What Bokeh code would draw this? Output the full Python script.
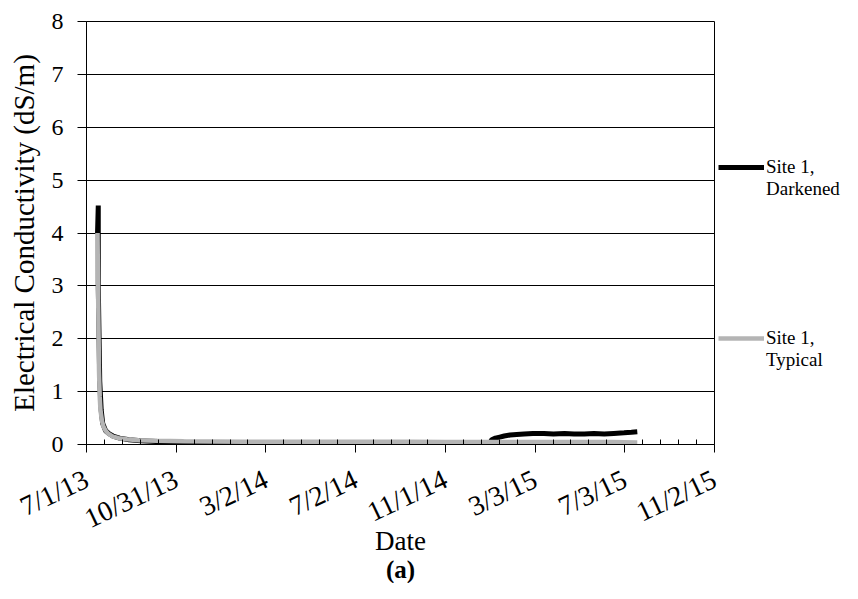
import pandas as pd
from bokeh.plotting import figure
from bokeh.models import FixedTicker, Legend, LegendItem, Title, ColumnDataSource
from bokeh.embed import file_html
from bokeh.resources import INLINE

# ---------------- data ----------------
start_date = "2013-07-01"
tick_dates = ["2013-07-01", "2013-10-31", "2014-03-02", "2014-07-02",
              "2014-11-01", "2015-03-03", "2015-07-03", "2015-11-02"]
tick_labels = ["7/1/13", "10/31/13", "3/2/14", "7/2/14",
               "11/1/14", "3/3/15", "7/3/15", "11/2/15"]
y_ticks = [0, 1, 2, 3, 4, 5, 6, 7, 8]

dark_dates = ["2013-07-16", "2013-07-17", "2013-07-17", "2013-07-19", "2013-07-21",
              "2013-07-23", "2013-07-27", "2013-08-01", "2013-08-06", "2013-08-15",
              "2013-08-28", "2013-09-13", "2013-10-10", "2013-11-15", "2014-01-01",
              "2014-03-01", "2014-05-01", "2014-07-01", "2014-09-01", "2014-11-01",
              "2014-12-15", "2015-01-01", "2015-01-03", "2015-01-08", "2015-01-14",
              "2015-01-20", "2015-01-28", "2015-02-06", "2015-02-16", "2015-02-28",
              "2015-03-15", "2015-03-28", "2015-04-12", "2015-04-25", "2015-05-09",
              "2015-05-22", "2015-06-05", "2015-06-18", "2015-07-02", "2015-07-12",
              "2015-07-20"]
dark_ec = [4.0, 4.52, 3.0, 1.2, 0.65,
           0.4, 0.26, 0.2, 0.16, 0.12,
           0.09, 0.07, 0.05, 0.04, 0.03,
           0.03, 0.03, 0.03, 0.03, 0.03,
           0.03, 0.04, 0.09, 0.12, 0.14,
           0.16, 0.18, 0.19, 0.2, 0.21,
           0.21, 0.2, 0.21, 0.2, 0.2,
           0.21, 0.2, 0.21, 0.22, 0.23,
           0.24]

typ_dates = ["2013-07-16", "2013-07-17", "2013-07-18", "2013-07-19", "2013-07-20",
             "2013-07-22", "2013-07-24", "2013-07-27", "2013-07-31", "2013-08-06",
             "2013-08-14", "2013-08-25", "2013-09-10", "2013-10-05", "2013-11-10",
             "2013-12-20", "2014-02-01", "2014-03-15", "2014-05-01", "2014-06-15",
             "2014-08-01", "2014-09-15", "2014-11-01", "2014-12-15", "2015-02-01",
             "2015-03-15", "2015-05-01", "2015-06-15", "2015-07-20"]
typ_ec = [4.0, 2.6, 1.4, 0.9, 0.65,
          0.45, 0.34, 0.26, 0.2, 0.15,
          0.12, 0.1, 0.08, 0.07, 0.06,
          0.055, 0.05, 0.05, 0.05, 0.05,
          0.05, 0.05, 0.045, 0.045, 0.045,
          0.045, 0.045, 0.045, 0.04]

# ---------------- helpers ----------------
t0 = pd.Timestamp(start_date)


def to_days(ds):
    return [(pd.Timestamp(d) - t0).days for d in ds]


major = to_days(tick_dates)
minor = []
for a, b in zip(major[:-1], major[1:]):
    step = (b - a) / 5.0
    minor += [a + step * k for k in range(1, 5)]

FONT = "Liberation Serif"

p = figure(frame_width=628, frame_height=423,
           min_border_left=86, min_border_right=128,
           min_border_top=21, min_border_bottom=139,
           x_range=(major[0], major[-1]), y_range=(0, 8),
           output_backend="svg", toolbar_location=None,
           background_fill_color="white", border_fill_color="white")

p.outline_line_color = "black"
p.outline_line_width = 1

dark_src = ColumnDataSource(dict(x=to_days(dark_dates), y=dark_ec))
typ_src = ColumnDataSource(dict(x=to_days(typ_dates), y=typ_ec))

r_dark = p.line("x", "y", source=dark_src, line_color="black", line_width=5)
r_typ = p.line("x", "y", source=typ_src, line_color="#b4b4b4", line_width=4.5)

# x axis
xa = p.xaxis[0]
xa.ticker = FixedTicker(ticks=major, minor_ticks=minor)
xa.major_label_overrides = {float(m): lab for m, lab in zip(major, tick_labels)}
xa.major_label_orientation = 0.44
xa.major_label_text_font = FONT
xa.major_label_text_font_size = "28px"
xa.major_label_text_color = "black"
xa.major_label_standoff = 25
xa.major_tick_in = 0
xa.major_tick_out = 8
xa.minor_tick_in = 5
xa.minor_tick_out = 0
xa.axis_line_color = "black"
xa.major_tick_line_color = "black"
xa.minor_tick_line_color = "black"
xa.axis_label = "Date"
xa.axis_label_text_font = FONT
xa.axis_label_text_font_size = "27px"
xa.axis_label_text_font_style = "normal"
xa.axis_label_text_color = "black"
xa.axis_label_standoff = -25

# y axis
ya = p.yaxis[0]
ya.ticker = FixedTicker(ticks=y_ticks, minor_ticks=[])
ya.major_label_text_font = FONT
ya.major_label_text_font_size = "24px"
ya.major_label_text_color = "black"
ya.major_label_standoff = 14
ya.major_tick_in = 0
ya.major_tick_out = 9
ya.axis_line_color = "black"
ya.major_tick_line_color = "black"
ya.axis_label = "Electrical Conductivity (dS/m)"
ya.axis_label_text_font = FONT
ya.axis_label_text_font_size = "29px"
ya.axis_label_text_font_style = "normal"
ya.axis_label_text_color = "black"
ya.axis_label_standoff = 9

p.xgrid.grid_line_color = None
p.ygrid.ticker = FixedTicker(ticks=y_ticks)
p.ygrid.grid_line_color = "black"
p.ygrid.grid_line_width = 1

# caption below
p.add_layout(Title(text="(a)", align="center", text_font=FONT,
                   text_font_size="25px", text_font_style="bold",
                   text_color="black", standoff=-9), "below")

# legend, outside the frame on the right; the leading empty line keeps the
# sample line level with the first line of each label
legend = Legend(items=[LegendItem(label="\nSite 1,\nDarkened", renderers=[r_dark]),
                       LegendItem(label="\nSite 1,\nTypical", renderers=[r_typ])],
                location=(4, 73), orientation="vertical",
                padding=0, margin=0, spacing=105,
                glyph_width=46, glyph_height=22, label_height=66,
                label_standoff=2, label_text_font=FONT,
                label_text_font_size="19px", label_text_color="black",
                label_text_line_height=1.05,
                border_line_color=None, background_fill_alpha=0)
p.add_layout(legend, "right")

open("out.html", "w").write(file_html(p, INLINE))
